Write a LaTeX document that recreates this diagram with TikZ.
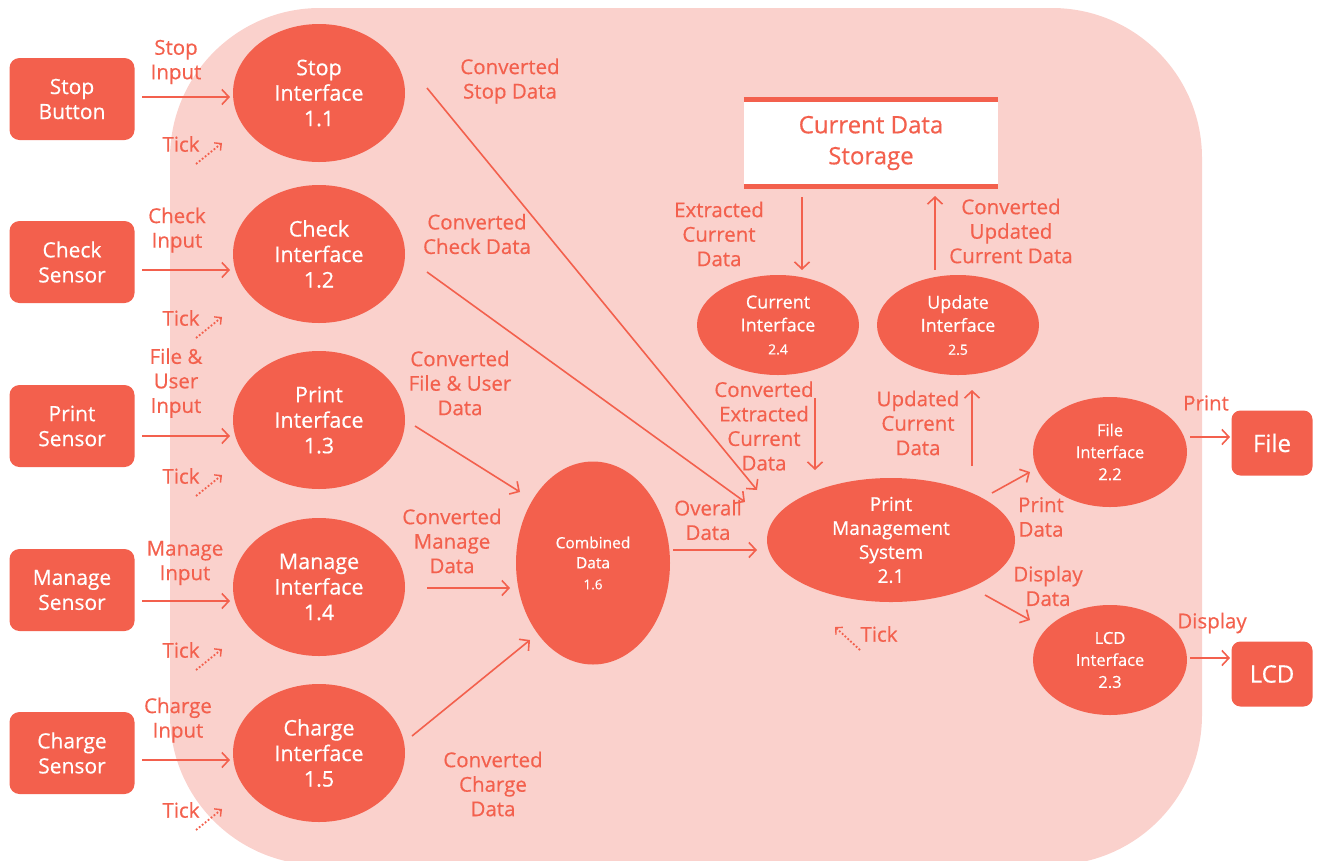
\documentclass[tikz,border=0pt]{standalone}
\usepackage{fontspec}
\setmainfont{Open Sans}[FakeBold=0.5]
\usetikzlibrary{calc,arrows.meta,shapes.geometric}
\definecolor{mainc}{HTML}{F3604D}
\definecolor{bgpink}{HTML}{FAD1CC}
\begin{document}
\begin{tikzpicture}[x=1pt,y=-1pt,
  extbox/.style={rectangle, rounded corners=10pt, fill=mainc, text=white, minimum width=125pt, minimum height=82pt, align=center, inner sep=0pt, font=\fontsize{21}{25}\selectfont},
  outbox/.style={rectangle, rounded corners=9pt, fill=mainc, text=white, minimum width=81pt, minimum height=65pt, align=center, inner sep=0pt, font=\fontsize{24}{28}\selectfont},
  proc/.style={ellipse, fill=mainc, text=white, align=center, inner sep=0pt},
  bigproc/.style={proc, minimum width=172pt, minimum height=138pt, font=\fontsize{21.5}{25.5}\selectfont},
  flow/.style={draw=mainc, line width=1.6pt, -{Straight Barb[length=7pt,width=15pt,line width=1.6pt]}},
  tickflow/.style={draw=mainc, line width=1.8pt, dotted, -{Straight Barb[length=5pt,width=10pt,line width=1.4pt]}},
  lbl/.style={text=mainc, align=center, inner sep=0pt, font=\fontsize{20.5}{24.5}\selectfont}
]
\useasboundingbox (0,0) rectangle (1322,860);
\fill[bgpink, rounded corners=150pt] (170,8) rectangle (1202,865);

% external entities
\node[extbox] (sb) at (72,99) {Stop\\Button};
\node[extbox] (cs) at (72,262) {Check\\Sensor};
\node[extbox] (ps) at (72,426) {Print\\Sensor};
\node[extbox] (ms) at (72,590) {Manage\\Sensor};
\node[extbox] (chs) at (72,753) {Charge\\Sensor};
\node[outbox] (file) at (1272,443) {File};
\node[outbox] (lcd) at (1272,674) {LCD};

% processes
\node[bigproc] (e11) at (319,93) {Stop\\Interface\\1.1};
\node[bigproc] (e12) at (319,254) {Check\\Interface\\1.2};
\node[bigproc] (e13) at (319,420) {Print\\Interface\\1.3};
\node[bigproc] (e14) at (319,587) {Manage\\Interface\\1.4};
\node[bigproc] (e15) at (319,753) {Charge\\Interface\\1.5};
\node[proc, minimum width=154pt, minimum height=203pt, font=\fontsize{15.5}{20}\selectfont] (e16) at (593,563) {Combined\\Data\\[1pt]{\fontsize{13.5}{15}\selectfont 1.6}};
\node[proc, minimum width=248pt, minimum height=124pt, font=\fontsize{19}{24}\selectfont] (e21) at (891,540) {Print\\Management\\System\\2.1};
\node[proc, minimum width=162pt, minimum height=100pt, font=\fontsize{18}{23}\selectfont] (e24) at (778,325) {Current\\Interface\\{\fontsize{14}{18}\selectfont 2.4}};
\node[proc, minimum width=162pt, minimum height=100pt, font=\fontsize{18}{23}\selectfont] (e25) at (958,325) {Update\\Interface\\{\fontsize{14}{18}\selectfont 2.5}};
\node[proc, minimum width=154pt, minimum height=110pt, font=\fontsize{16.5}{22}\selectfont] (e22) at (1110,452) {File\\Interface\\2.2};
\node[proc, minimum width=154pt, minimum height=110pt, font=\fontsize{16.5}{22}\selectfont] (e23) at (1110,660) {LCD\\Interface\\2.3};

% data store
\node[rectangle, fill=white, minimum width=254pt, minimum height=87pt, align=center, text=mainc, font=\fontsize{24}{31}\selectfont] (st) at (871,143) {Current Data\\Storage};
\draw[mainc, line width=5pt] (st.north west) -- (st.north east);
\draw[mainc, line width=5pt] (st.south west) -- (st.south east);

% input flows
\draw[flow] ($(sb.center)+(70,-2)$) -- ($(e11.center)+(-89,4)$);
\draw[flow] ($(cs.center)+(70,8)$) -- ($(e12.center)+(-89,16)$);
\draw[flow] ($(ps.center)+(70,10)$) -- ($(e13.center)+(-89,16)$);
\draw[flow] ($(ms.center)+(70,11)$) -- ($(e14.center)+(-89,14)$);
\draw[flow] ($(chs.center)+(70,7)$) -- ($(e15.center)+(-89,7)$);
\node[lbl] (l1) at (176,62) {Stop\\Input};
\node[lbl] (l2) at (177,230) {Check\\Input};
\node[lbl] (l3) at (176,383) {File \&\\User\\Input};
\node[lbl] (l4) at (185,563) {Manage\\Input};
\node[lbl] (l5) at (178,720) {Charge\\Input};

% ticks
\foreach \i/\ty in {1/144,2/318,3/476,4/650,5/810}{
  \node[lbl] (tk\i) at (181,\ty) {Tick};
  \coordinate (ts\i) at (196,\ty+20);
  \coordinate (te\i) at (222,\ty-1);
  \draw[tickflow] (ts\i) -- (te\i);
}
\node[lbl] (tk6) at (879,634) {Tick};
\coordinate (ts6) at (860,650);
\coordinate (te6) at (835,627);
\draw[tickflow] (ts6) -- (te6);

% internal flows
\draw[flow] ($(e11.center)+(108,-5)$) -- ($(e21.center)+(-134,-50)$);
\draw[flow] ($(e12.center)+(108,18)$) -- ($(e21.center)+(-146,-38)$);
\draw[flow] ($(e13.center)+(96,6)$) -- ($(e16.center)+(-73,-71)$);
\draw[flow] ($(e14.center)+(108,1)$) -- ($(e16.center)+(-83,25)$);
\draw[flow] ($(e15.center)+(93,-17)$) -- ($(e16.center)+(-63,77)$);
\draw[flow] ($(e16.center)+(80,-13)$) -- ($(e21.center)+(-134,10)$);
\draw[flow] ($(st.center)+(-69,54)$) -- ($(e24.center)+(24,-55)$);
\draw[flow] ($(e25.center)+(-23,-55)$) -- ($(st.center)+(64,53)$);
\draw[flow] ($(e24.center)+(37,73)$) -- ($(e21.center)+(-76,-70)$);
\draw[flow] ($(e21.center)+(81,-74)$) -- ($(e25.center)+(14,65)$);
\draw[flow] ($(e21.center)+(101,-47)$) -- ($(e22.center)+(-80,20)$);
\draw[flow] ($(e21.center)+(94,55)$) -- ($(e23.center)+(-80,-40)$);
\draw[flow] ($(e22.center)+(80,-15)$) -- ($(file.center)+(-42,-6)$);
\draw[flow] ($(e23.center)+(80,-2)$) -- ($(lcd.center)+(-42,-16)$);

% labels
\node[lbl] (c1) at (510,81) {Converted\\Stop Data};
\node[lbl] (c2) at (477,234) {Converted\\Check Data};
\node[lbl] (c3) at (460,383) {Converted\\File \& User\\Data};
\node[lbl] (c4) at (452,541) {Converted\\Manage\\Data};
\node[lbl] (c5) at (493,784) {Converted\\Charge\\Data};
\node[lbl] (c6) at (708,520) {Overall\\Data};
\node[lbl] (c7) at (719,234) {Extracted\\Current\\Data};
\node[lbl] (c8) at (1011,231) {Converted\\Updated\\Current Data};
\node[lbl] (c9) at (764,426) {Converted\\Extracted\\Current\\Data};
\node[lbl] (c10) at (918,423) {Updated\\Current\\Data};
\node[lbl] (c11) at (1041,517) {Print\\Data};
\node[lbl] (c12) at (1048,586) {Display\\Data};
\node[lbl] (c13) at (1206,403) {Print};
\node[lbl] (c14) at (1212,623) {Display};
\end{tikzpicture}
\end{document}
